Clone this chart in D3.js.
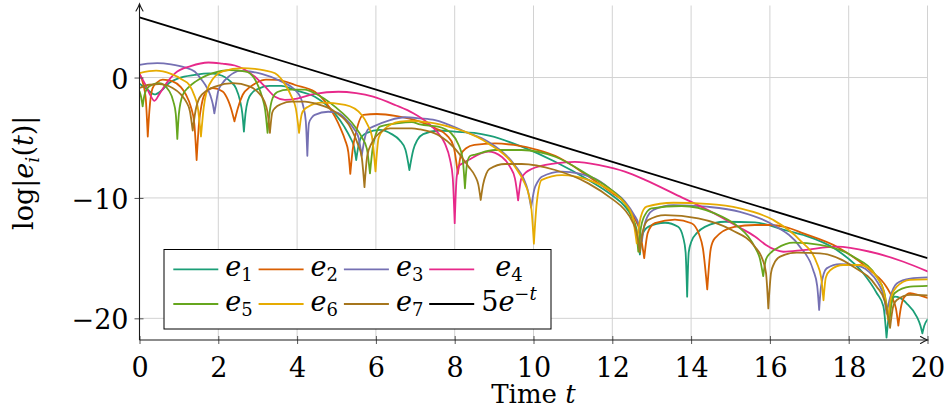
<!DOCTYPE html>
<html><head><meta charset="utf-8">
<script src="https://cdn.jsdelivr.net/npm/d3@7"></script>
<style>
body{margin:0;background:#fff}
svg{display:block}
text{font-family:"DejaVu Serif","Liberation Serif",serif;font-size:27px;fill:#000}
</style></head><body>
<svg id="c" width="944" height="410"></svg>
<script>
// ---------------- data ----------------
const xTicks = [0,2,4,6,8,10,12,14,16,18,20];
const xTickLabels = ["0","2","4","6","8","10","12","14","16","18","20"];
const yTicks = [0,-10,-20];
const yTickLabels = ["0","\u221210","\u221220"];
const seriesNames = ["e_1","e_2","e_3","e_4","e_5","e_6","e_7","5e^-t"];
const seriesColors = ["#1b9e77","#d95f02","#7570b3","#e7298a","#66a61e","#e6ab02","#a6761d","#000000"];

const e1 = [[0,-0.5],[0.2,-1.0],[0.38,-1.4],[0.55,-1.1],[0.75,-0.45],[1.0,-0.05],[1.4,0.22],[1.77,0.35],[2.1,0.15],[2.3,-0.3],[2.45,-0.9],[2.55,-1.9],[2.61,-3.0],[2.65,-4.5],[2.69,-3.0],[2.75,-1.9],[2.85,-1.3],[3.04,-0.9],[3.3,-0.7],[3.6,-0.7],[3.95,-1.05],[4.45,-1.6],[4.96,-3.0],[5.2,-4.1],[5.35,-5.0],[5.45,-5.8],[5.5,-6.85],[5.55,-5.8],[5.62,-5.0],[5.77,-4.6],[6.1,-4.35],[6.4,-4.7],[6.6,-5.2],[6.75,-6.0],[6.85,-7.68],[6.95,-6.0],[7.05,-5.2],[7.2,-4.7],[7.6,-4.4],[8.0,-4.5],[8.5,-4.6],[8.9,-4.85],[9.7,-5.74],[10.55,-6.99],[11.39,-8.5],[12.0,-9.8],[12.32,-10.7],[12.5,-11.6],[12.62,-12.7],[12.7,-14.7],[12.77,-13.0],[12.91,-12.4],[13.34,-12.06],[13.67,-12.4],[13.8,-13.3],[13.86,-14.5],[13.9,-18.2],[13.94,-14.5],[14.01,-13.6],[14.15,-12.9],[14.35,-12.4],[14.86,-11.98],[15.62,-12.03],[16.38,-12.67],[16.85,-13.08],[17.7,-14.33],[18.37,-16.26],[18.71,-17.9],[18.88,-19.0],[18.96,-21.6],[19.03,-19.5],[19.17,-18.2],[19.3,-18.3],[19.47,-18.75],[19.73,-19.87],[19.82,-20.6],[19.87,-21.25],[19.92,-20.6],[20.0,-20.1]];

const e2 = [[0,0.3],[0.1,-0.6],[0.16,-1.8],[0.21,-4.9],[0.25,-2.8],[0.33,-0.9],[0.45,-0.4],[0.59,-0.18],[0.84,-0.32],[1.05,-0.8],[1.18,-1.43],[1.3,-2.4],[1.39,-3.8],[1.45,-6.85],[1.51,-3.8],[1.58,-2.2],[1.65,-1.43],[1.86,-0.87],[2.11,-1.15],[2.25,-1.9],[2.32,-2.53],[2.41,-3.64],[2.5,-2.5],[2.62,-1.43],[2.8,-0.8],[2.96,-0.46],[3.21,-0.18],[3.5,-0.2],[3.95,-0.62],[4.45,-1.18],[4.96,-3.25],[5.1,-4.2],[5.22,-5.2],[5.3,-6.2],[5.35,-8.0],[5.41,-6.0],[5.5,-4.5],[5.68,-3.11],[6.02,-3.03],[6.53,-3.2],[7.12,-3.67],[7.5,-4.2],[7.8,-4.8],[7.97,-5.7],[8.08,-8.0],[8.16,-6.4],[8.3,-5.85],[8.5,-5.6],[9.02,-5.47],[9.5,-5.6],[10.12,-6.02],[10.55,-6.5],[11.39,-8.2],[12.0,-9.6],[12.32,-10.4],[12.55,-11.6],[12.7,-12.8],[12.81,-15.0],[12.9,-12.9],[13.08,-12.1],[13.59,-11.8],[14.01,-12.1],[14.2,-13.0],[14.3,-14.2],[14.41,-17.6],[14.5,-14.2],[14.6,-13.36],[15.1,-12.4],[15.62,-12.25],[16.0,-12.25],[16.38,-12.4],[16.85,-12.94],[17.7,-14.05],[18.54,-16.0],[18.96,-17.4],[19.12,-18.4],[19.2,-19.2],[19.26,-20.6],[19.32,-19.2],[19.4,-18.3],[19.56,-17.9],[19.8,-18.1],[20.0,-18.3]];

const e3 = [[0,1.05],[0.2,1.15],[0.45,1.2],[0.8,1.1],[1.15,0.85],[1.4,0.5],[1.58,-0.2],[1.72,-0.9],[1.8,-1.5],[1.86,-2.2],[1.9,-2.97],[1.94,-2.2],[2.0,-1.1],[2.1,-0.5],[2.26,0.07],[2.55,0.55],[2.8,0.5],[3.1,0.3],[3.52,-0.21],[4.03,-1.32],[4.15,-2.3],[4.22,-3.6],[4.26,-6.5],[4.3,-3.8],[4.38,-3.3],[4.45,-3.1],[4.79,-2.84],[5.0,-2.9],[5.26,-3.53],[5.45,-4.3],[5.56,-5.0],[5.64,-6.5],[5.72,-5.0],[5.8,-4.3],[5.93,-4.08],[6.36,-3.53],[6.74,-3.3],[7.12,-3.39],[7.5,-3.53],[8.26,-4.5],[8.85,-5.33],[9.53,-7.3],[9.75,-8.4],[9.85,-9.3],[9.94,-10.8],[10.02,-9.3],[10.1,-8.7],[10.21,-8.24],[10.72,-7.82],[11.56,-8.4],[12.0,-9.4],[12.32,-10.3],[12.55,-11.4],[12.68,-12.3],[12.75,-13.6],[12.82,-12.2],[12.9,-11.5],[13.04,-11.0],[13.55,-10.59],[14.4,-10.73],[15.24,-11.15],[16.09,-12.25],[16.76,-14.05],[17.1,-16.0],[17.2,-17.3],[17.25,-19.3],[17.3,-17.3],[17.44,-15.85],[17.78,-15.5],[18.2,-15.6],[18.5,-16.1],[18.75,-17.1],[18.9,-18.3],[18.96,-19.6],[19.05,-18.3],[19.22,-17.1],[19.56,-16.7],[20.0,-16.6]];

const e4 = [[0,0.3],[0.15,-0.6],[0.28,-1.5],[0.38,-1.93],[0.5,-1.4],[0.7,-0.4],[0.9,0.35],[1.3,0.95],[1.75,1.25],[2.1,1.15],[2.42,1.0],[2.93,0.07],[3.2,-0.8],[3.44,-1.6],[3.69,-1.85],[4.0,-1.75],[4.45,-1.35],[5.05,-1.18],[5.5,-1.3],[5.93,-1.59],[6.5,-2.3],[6.95,-2.97],[7.33,-3.8],[7.55,-4.5],[7.75,-5.47],[7.88,-6.8],[7.95,-8.3],[8.0,-12.1],[8.05,-8.3],[8.12,-7.3],[8.22,-7.1],[8.35,-6.85],[8.85,-6.16],[9.2,-6.6],[9.4,-7.4],[9.53,-8.4],[9.61,-10.2],[9.69,-8.4],[9.8,-7.9],[9.95,-7.6],[10.55,-7.13],[11.05,-7.0],[11.7,-7.3],[12.32,-7.82],[12.83,-8.5],[13.6,-9.7],[14.6,-11.3],[15.2,-12.4],[15.62,-13.2],[15.9,-13.9],[16.13,-14.3],[16.34,-14.47],[16.85,-14.33],[17.7,-14.05],[18.54,-14.47],[19.39,-15.3],[20.0,-16.1]];

const e5 = [[0,-1.15],[0.04,-1.6],[0.08,-2.4],[0.13,-1.4],[0.25,-0.73],[0.5,-0.46],[0.76,-1.15],[0.86,-2.0],[0.92,-3.0],[0.96,-5.1],[1.0,-3.0],[1.1,-1.43],[1.25,-0.8],[1.43,-0.32],[1.86,0.37],[2.28,0.62],[2.7,0.5],[2.9,0.0],[3.02,-0.76],[3.12,-1.7],[3.19,-2.7],[3.25,-4.6],[3.31,-2.7],[3.38,-1.7],[3.5,-1.2],[3.78,-1.0],[4.2,-1.0],[4.45,-1.31],[4.96,-2.42],[5.47,-4.08],[5.65,-5.0],[5.77,-5.9],[5.85,-7.96],[5.92,-5.8],[6.0,-4.7],[6.1,-4.08],[6.53,-3.81],[6.91,-3.7],[7.12,-3.9],[7.58,-4.08],[7.9,-4.6],[8.1,-5.6],[8.2,-6.7],[8.26,-9.2],[8.32,-7.0],[8.4,-6.5],[8.52,-6.4],[9.02,-6.02],[9.7,-6.02],[10.55,-6.58],[11.39,-8.1],[12.0,-9.4],[12.32,-10.45],[12.5,-11.6],[12.6,-12.6],[12.66,-14.47],[12.73,-12.4],[12.85,-11.3],[13.0,-10.87],[13.76,-10.67],[14.6,-11.28],[15.2,-12.4],[15.45,-13.2],[15.62,-14.1],[15.75,-15.1],[15.83,-16.5],[15.9,-15.1],[16.05,-14.47],[16.17,-14.2],[16.6,-13.72],[17.27,-13.9],[18.12,-14.88],[18.71,-16.54],[18.9,-17.8],[19.03,-20.4],[19.1,-18.5],[19.17,-17.9],[19.56,-17.37],[20.0,-17.3]];

const e6 = [[0,0.37],[0.42,0.57],[0.8,0.3],[1.1,-0.2],[1.26,-0.6],[1.38,-1.4],[1.48,-2.5],[1.56,-4.9],[1.63,-2.5],[1.7,-1.2],[1.77,-0.6],[2.11,0.51],[2.62,0.79],[2.93,0.72],[3.17,0.6],[3.44,0.35],[3.7,-0.6],[3.86,-1.6],[3.97,-2.6],[4.05,-4.6],[4.12,-3.0],[4.2,-2.6],[4.28,-2.42],[4.62,-2.09],[5.22,-2.28],[5.64,-3.11],[5.8,-4.0],[5.9,-4.9],[5.99,-7.8],[6.07,-5.0],[6.19,-4.36],[6.61,-3.67],[6.9,-3.6],[7.5,-3.81],[8.0,-4.22],[8.26,-4.5],[8.85,-5.47],[9.53,-7.41],[9.75,-8.6],[9.87,-9.6],[9.95,-11.0],[10.01,-13.8],[10.08,-10.5],[10.21,-8.5],[10.72,-8.1],[11.39,-8.5],[12.0,-9.5],[12.32,-10.45],[12.5,-11.4],[12.62,-13.77],[12.72,-11.6],[12.87,-10.73],[13.55,-10.4],[14.4,-10.5],[15.24,-10.87],[16.09,-11.84],[16.76,-13.5],[17.19,-15.4],[17.3,-16.6],[17.36,-18.5],[17.42,-16.6],[17.53,-16.0],[17.86,-15.57],[18.29,-15.57],[18.71,-16.54],[18.9,-17.9],[19.0,-20.1],[19.08,-18.2],[19.22,-17.37],[19.56,-16.8],[20.0,-16.76]];

const e7 = [[0,-0.87],[0.25,-0.6],[0.5,-0.55],[0.84,-0.87],[1.05,-1.4],[1.18,-1.98],[1.28,-2.8],[1.35,-4.4],[1.42,-2.8],[1.52,-1.7],[1.7,-1.1],[1.94,-0.73],[2.37,-0.46],[2.79,-0.73],[3.0,-1.2],[3.17,-1.98],[3.25,-2.9],[3.31,-4.6],[3.37,-2.9],[3.45,-2.5],[3.6,-2.2],[3.86,-2.0],[4.2,-2.0],[4.45,-2.15],[4.96,-2.84],[5.39,-4.36],[5.55,-5.6],[5.64,-6.6],[5.71,-9.1],[5.78,-6.5],[5.89,-5.47],[6.0,-4.9],[6.36,-4.22],[6.91,-4.22],[7.12,-4.31],[7.58,-4.78],[8.0,-5.88],[8.35,-7.4],[8.52,-8.2],[8.6,-8.9],[8.66,-10.17],[8.72,-8.9],[8.8,-8.0],[8.88,-7.6],[9.28,-7.18],[9.7,-7.18],[10.55,-7.68],[11.39,-8.79],[12.0,-10.1],[12.32,-11.0],[12.5,-11.9],[12.62,-12.9],[12.7,-14.47],[12.78,-12.7],[12.91,-11.84],[13.34,-11.42],[14.18,-11.7],[15.03,-12.67],[15.62,-14.05],[15.8,-15.0],[15.9,-16.2],[15.96,-19.17],[16.03,-16.2],[16.1,-15.5],[16.26,-14.88],[16.68,-14.55],[17.27,-14.6],[18.12,-15.71],[18.71,-17.37],[18.92,-18.6],[19.05,-20.8],[19.13,-19.0],[19.22,-18.48],[19.56,-18.06],[20.0,-18.1]];

const boundT = [0, 20];
const boundV = [5, -15];

// ---------------- drawing ----------------
const svg = d3.select("#c");
const PL = 139.5, PR = 927.5, PT = 5.5, PB = 340;
const x = d3.scaleLinear().domain([0,20]).range([PL,PR]);
const y = d3.scaleLinear().domain([-21.8,6]).range([PB,5.3]);

// grid
svg.append("g").selectAll("line").data(xTicks).join("line")
  .attr("x1",d=>x(d)).attr("x2",d=>x(d)).attr("y1",PT).attr("y2",PB)
  .attr("stroke","#d2d2d2").attr("stroke-width",1);
svg.append("g").selectAll("line").data(yTicks).join("line")
  .attr("x1",PL).attr("x2",PR).attr("y1",d=>y(d)).attr("y2",d=>y(d))
  .attr("stroke","#d2d2d2").attr("stroke-width",1);

svg.append("defs").append("clipPath").attr("id","clip")
  .append("rect").attr("x",PL).attr("y",0).attr("width",PR-PL).attr("height",PB);

const lineGen = d3.line().x(d=>x(d[0])).y(d=>y(d[1])).curve(d3.curveMonotoneX);
function pathFor(pts){
  const segs=[]; let cur=[pts[0]];
  for(let i=1;i<pts.length;i++){
    cur.push(pts[i]);
    if(i<pts.length-1 && pts[i][1] < pts[i-1][1]-0.5 && pts[i][1] < pts[i+1][1]-0.5){
      segs.push(cur); cur=[pts[i]];
    }
  }
  segs.push(cur);
  return segs.map(s=>lineGen(s)).join("");
}

const series = [e1,e2,e3,e4,e5,e6,e7];
const plot = svg.append("g").attr("clip-path","url(#clip)");
series.forEach((s,i)=>{
  plot.append("path").attr("d",pathFor(s)).attr("fill","none")
    .attr("stroke",seriesColors[i]).attr("stroke-width",1.8)
    .attr("stroke-linejoin","round").attr("stroke-linecap","round");
});
const bound = boundT.map((t,i)=>[t,boundV[i]]);
plot.append("path").attr("d",d3.line().x(d=>x(d[0])).y(d=>y(d[1]))(bound))
  .attr("fill","none").attr("stroke",seriesColors[7]).attr("stroke-width",1.8);

// axes
const gx = svg.append("g").attr("transform",`translate(0,${PB})`)
  .call(d3.axisBottom(x).tickValues(xTicks).tickSize(4).tickFormat((d,i)=>xTickLabels[i]));
gx.attr("font-family",null).attr("font-size",null);
gx.select(".domain").remove();
gx.selectAll(".tick line").attr("y1",-4).attr("y2",4).attr("stroke","#555");
gx.selectAll(".tick text").attr("y",37).attr("dy",null);

const gy = svg.append("g").attr("transform",`translate(${PL},0)`)
  .call(d3.axisLeft(y).tickValues(yTicks).tickSize(5).tickFormat((d,i)=>yTickLabels[i]));
gy.attr("font-family",null).attr("font-size",null);
gy.select(".domain").remove();
gy.selectAll(".tick line").attr("x1",-5).attr("x2",4).attr("stroke","#555");
gy.selectAll(".tick text").attr("x",-11).attr("dy",null).attr("y",10.5);

const axCol="#1a1a1a";
svg.append("line").attr("x1",PL).attr("x2",PR).attr("y1",PB).attr("y2",PB).attr("stroke",axCol).attr("stroke-width",1.1);
svg.append("line").attr("x1",PL).attr("x2",PL).attr("y1",PB).attr("y2",4).attr("stroke",axCol).attr("stroke-width",1.1);
svg.append("path").attr("d",`M${PR-7},${PB-3.5} Q${PR-2.5},${PB-0.8} ${PR},${PB} Q${PR-2.5},${PB+0.8} ${PR-7},${PB+3.5}`)
  .attr("fill","none").attr("stroke",axCol).attr("stroke-width",1.1).attr("stroke-linecap","round");
svg.append("path").attr("d",`M${PL-3.5},11 Q${PL-0.8},6.5 ${PL},4 Q${PL+0.8},6.5 ${PL+3.5},11`)
  .attr("fill","none").attr("stroke",axCol).attr("stroke-width",1.1).attr("stroke-linecap","round");

// axis labels
const xl = svg.append("text").attr("x",(PL+PR)/2).attr("y",403).attr("text-anchor","middle").style("font-size","26px");
xl.append("tspan").text("Time ");
xl.append("tspan").attr("font-style","italic").text("t");

const yl = svg.append("text").attr("transform",`translate(33,${(PT+PB)/2}) rotate(-90)`).attr("text-anchor","middle");
yl.append("tspan").text("log|");
yl.append("tspan").attr("font-style","italic").text("e");
yl.append("tspan").attr("font-style","italic").attr("font-size",19).attr("dy",6).text("i");
yl.append("tspan").attr("dy",-6).text("(");
yl.append("tspan").attr("font-style","italic").text("t");
yl.append("tspan").text(")|");

// legend
const leg = svg.append("g");
leg.append("rect").attr("x",164).attr("y",249.5).attr("width",387).attr("height",79.5)
  .attr("fill","#fff").attr("stroke","#000").attr("stroke-width",1);
const colW = 85.3, lineX0 = 173.3, lineLen = 45, rowY = [269.3, 304];
const items = seriesNames.map((name,i)=>{
  const col = i%4, row = Math.floor(i/4);
  const lx = lineX0 + col*colW, ly = rowY[row];
  leg.append("line").attr("x1",lx).attr("x2",lx+lineLen).attr("y1",ly).attr("y2",ly)
    .attr("stroke",seriesColors[i]).attr("stroke-width",1.8);
  const t = leg.append("text").attr("x",lx+lineLen+7).attr("y",ly+6.5);
  let m;
  if((m = name.match(/^(\d*)e_(\w+)$/))){
    if(m[1]) t.append("tspan").text(m[1]);
    t.append("tspan").attr("font-style","italic").text("e");
    t.append("tspan").attr("font-size",18).attr("dy",5).text(m[2]);
  } else if((m = name.match(/^(\d*)e\^(-?)(\w+)$/))){
    if(m[1]) t.append("tspan").text(m[1]);
    t.append("tspan").attr("font-style","italic").text("e");
    t.append("tspan").attr("font-size",18).attr("dy",-11).text(m[2]?"\u2212":"");
    t.append("tspan").attr("font-size",18).attr("font-style","italic").text(m[3]);
  }
  return {t,col,w:t.node().getComputedTextLength()};
});
const maxW = [0,1,2,3].map(c=>d3.max(items.filter(d=>d.col===c),d=>d.w));
items.forEach(d=>{
  const x0 = +d.t.attr("x");
  d.t.attr("x", x0 + (maxW[d.col]-d.w)/2);
});
</script>
</body></html>
